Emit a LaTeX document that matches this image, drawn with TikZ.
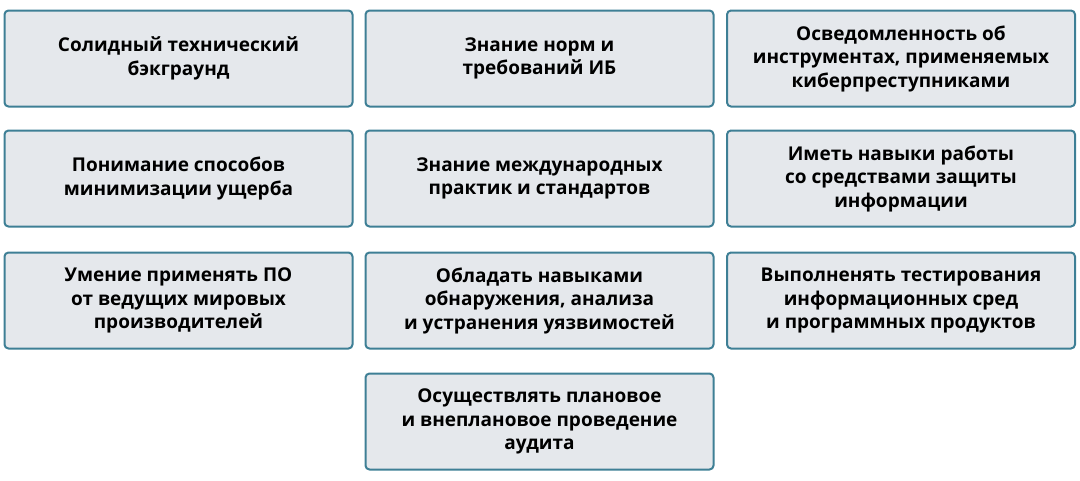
\documentclass[tikz,border=0pt]{standalone}
\usepackage{fontspec}
\setmainfont{Open Sans}
\definecolor{bd}{HTML}{3E7F95}
\definecolor{bg}{HTML}{E5E8EC}
\begin{document}
\begin{tikzpicture}[x=1pt,y=-1pt,
 card/.style={draw=bd,line width=2pt,fill=bg,rounded corners=4pt,minimum width=348pt,minimum height=96pt,align=center,font=\fontsize{19}{23.5}\selectfont\bfseries,inner sep=2pt}]
\useasboundingbox (0,0) rectangle (1080,480);
\def\cx{{178.5,539.5,901}}
\node[card] (a1) at (178.5,58.5) {Солидный технический\\бэкграунд};
\node[card] (a2) at (539.5,58.5) {Знание норм и\\требований ИБ};
\node[card] (a3) at (901,58.5) {Осведомленность об\\инструментах, применяемых\\киберпреступниками};
\node[card] (b1) at (178.5,178.5) {Понимание способов\\минимизации ущерба};
\node[card] (b2) at (539.5,178.5) {Знание международных\\практик и стандартов};
\node[card] (b3) at (901,178.5) {Иметь навыки работы\\со средствами защиты\\информации};
\node[card] (c1) at (178.5,300.5) {Умение применять ПО\\от ведущих мировых\\производителей};
\node[card] (c2) at (539.5,300.5) {Обладать навыками\\обнаружения, анализа\\и устранения уязвимостей};
\node[card] (c3) at (901,300.5) {Выполненять тестирования\\информационных сред\\и программных продуктов};
\node[card] (d2) at (539.5,421.5) {Осуществлять плановое\\и внеплановое проведение\\аудита};
\end{tikzpicture}
\end{document}
